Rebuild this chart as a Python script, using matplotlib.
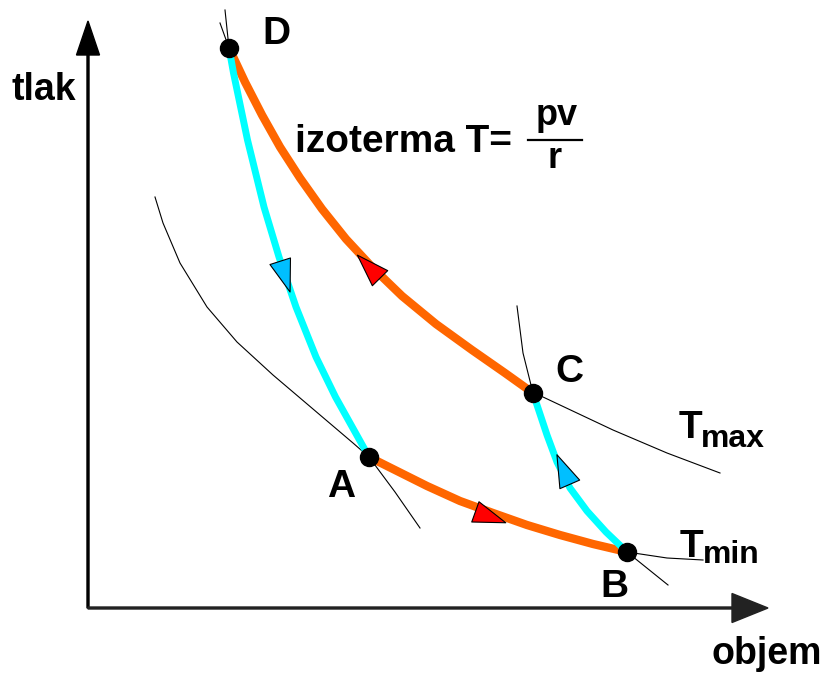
import numpy as np
import matplotlib
matplotlib.use('Agg')
import matplotlib.pyplot as plt
from matplotlib.path import Path
from matplotlib.markers import MarkerStyle
from matplotlib.transforms import Affine2D

plt.rcParams['font.family'] = ['Liberation Sans', 'DejaVu Sans']
plt.rcParams['font.weight'] = 'bold'

# Carnot cycle A -> B -> C -> D -> A (v = objem, p = tlak)
points_name = ['A', 'B', 'C', 'D']
points_v = [281, 539, 445, 141]
points_p = [151, 56, 215, 560]

# isotherm T_min, A -> B
iso_min_v = [281, 305, 339, 372, 405, 439, 472, 505, 539]
iso_min_p = [151, 139, 122, 107, 95, 83, 73, 64, 56]
# adiabat B -> C
adi_bc_v = [539, 518, 499, 482, 469, 459, 449, 445]
adi_bc_p = [56, 76, 97, 120, 146, 173, 203, 215]
# isotherm T_max, C -> D
iso_max_v = [445, 417, 384, 348, 314, 284, 258, 234, 212, 192, 174, 157, 141]
iso_max_p = [215, 235, 258, 284, 312, 341, 369, 399, 430, 461, 493, 526, 560]
# adiabat D -> A
adi_da_v = [141, 145.5, 159.5, 176, 191, 208, 228, 247.5, 281]
adi_da_p = [560, 535, 468, 401, 351, 301, 251, 211, 151]

# thin continuation lines
thin_lines = [
    ([67, 75, 92, 119, 149, 185, 225, 265, 281], [411, 385, 345, 301, 266, 233, 199, 165, 151]),
    ([539, 579, 615], [56, 50, 48]),
    ([445, 455, 525, 579, 632], [215, 211, 178, 155, 135]),
    ([281, 307, 332], [151, 116, 80]),
    ([539, 580], [56, 23]),
    ([429, 435, 445], [302, 255, 215]),
    ([137, 141], [598, 560]),
    ([132, 141], [585, 560]),
]

# direction arrows (position on curve)
arrow_v = [195, 284, 397, 477]
arrow_p = [337, 338, 93, 134]

ORANGE = '#ff6600'
CYAN = '#00ffff'
RED = '#ff0000'
BLUE = '#00bfff'

fig = plt.figure(figsize=(8.28, 6.73), dpi=100)
ax = fig.add_axes([0, 0, 1, 1])
ax.set_xlim(-88, 740)
ax.set_ylim(-65, 608)
ax.axis('off')

# axes with arrows
ax.arrow(0, 0, 0, 587, width=2, head_width=23, head_length=34,
         length_includes_head=True, color='black', zorder=1)
ax.arrow(0, 0, 680, 0, width=2, head_width=29, head_length=36,
         length_includes_head=True, color='#222222', zorder=1)

for tv, tp in thin_lines:
    ax.plot(tv, tp, color='black', lw=0.8, zorder=2)

curves = [
    (iso_min_v, iso_min_p, ORANGE, 6.0),
    (adi_bc_v, adi_bc_p, CYAN, 5.0),
    (iso_max_v, iso_max_p, ORANGE, 6.0),
    (adi_da_v, adi_da_p, CYAN, 5.0),
]
for cv, cp, col, lw in curves:
    ax.plot(cv, cp, color=col, lw=lw, solid_capstyle='butt',
            solid_joinstyle='round', zorder=3)

# arrowheads along the cycle
tri = Path([(22, 0), (-11, 11), (-11, -11), (22, 0)],
           [Path.MOVETO, Path.LINETO, Path.LINETO, Path.CLOSEPOLY])
arrow_curves = [curves[3], curves[2], curves[0], curves[1]]
arrow_cols = [BLUE, RED, RED, BLUE]
for x, y, (cv, cp, _, _), col in zip(arrow_v, arrow_p, arrow_curves, arrow_cols):
    cv = np.asarray(cv, float)
    cp = np.asarray(cp, float)
    i = int(np.argmin((cv - x) ** 2 + (cp - y) ** 2))
    i0, i1 = max(i - 1, 0), min(i + 1, len(cv) - 1)
    ang = np.degrees(np.arctan2(cp[i1] - cp[i0], cv[i1] - cv[i0]))
    m = MarkerStyle(tri, transform=Affine2D().rotate_deg(ang))
    ax.plot(x, y, marker=m, markersize=31, markerfacecolor=col,
            markeredgecolor='black', markeredgewidth=0.8, zorder=4)

ax.plot(points_v, points_p, 'o', color='black', markersize=13, zorder=5)

# point labels
label_pos = {'A': (239, 111), 'B': (512, 11), 'C': (467, 226), 'D': (174, 564)}
for name in points_name:
    lx, ly = label_pos[name]
    ax.text(lx, ly, name, fontsize=28, fontweight='bold', ha='left', va='baseline')

# axis titles
ax.text(-76, 508, 'tlak', fontsize=27, fontweight='bold', ha='left', va='baseline')
ax.text(624, -56, 'objem', fontsize=27, fontweight='bold', ha='left', va='baseline')

# T_max / T_min
ax.text(591, 170, 'T', fontsize=28, fontweight='bold', ha='left', va='baseline')
ax.text(613, 161, 'max', fontsize=23, fontweight='bold', ha='left', va='baseline')
ax.text(592, 51, 'T', fontsize=28, fontweight='bold', ha='left', va='baseline')
ax.text(615, 45, 'min', fontsize=23, fontweight='bold', ha='left', va='baseline')

# izoterma T = pv / r
ax.text(207, 456, 'izoterma T=', fontsize=28, fontweight='bold', ha='left', va='baseline')
ax.text(469, 483, 'pv', fontsize=26, fontweight='bold', ha='center', va='baseline')
ax.plot([440, 494], [468, 468], color='black', lw=1.6)
ax.text(467, 440, 'r', fontsize=26, fontweight='bold', ha='center', va='baseline')

fig.savefig('out.png', dpi=100, facecolor='white')
